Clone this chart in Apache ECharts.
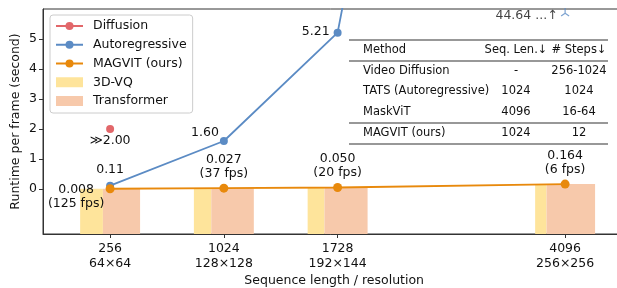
<!DOCTYPE html>
<html><head><meta charset="utf-8">
<script src="https://cdn.jsdelivr.net/npm/echarts@6/dist/echarts.min.js"></script>
<style>html,body{margin:0;padding:0;background:#fff}#c{width:617px;height:288px}</style>
</head><body><div id="c"></div>
<script>
// ---- data ----
const seqLens = ['256', '1024', '1728', '4096'];
const resolutions = ['64×64', '128×128', '192×144', '256×256'];
const xSlots = [1, 2, 3, 5];              // ordinal slot of each sequence length (gap before 4096)
const diffusionRuntime = [2.00];          // shown at first slot, "≫2.00"
const autoregressiveRuntime = [0.11, 1.60, 5.21, 44.64];
const magvitRuntime = [0.008, 0.027, 0.050, 0.164];
const magvitFps = [125, 37, 20, 6];
const vqShare = [0.38, 0.29, 0.28, 0.19]; // share of MAGVIT runtime spent in 3D-VQ
const yTicks = [0, 1, 2, 3, 4, 5];
const tableHeader = ['Method', 'Seq. Len.↓', '# Steps↓'];
const tableMethods = ['Video Diffusion', 'TATS (Autoregressive)', 'MaskViT', 'MAGVIT (ours)'];
const tableSeqLen = ['-', '1024', '4096', '1024'];
const tableSteps = ['256-1024', '1024', '16-64', '12'];

// ---- style ----
const FONT = 'DejaVu Sans';
const TXT = '#111';
const C_DIFF = '#e2676a', C_AR = '#5b8bc4', C_MAG = '#e8890c', C_VQ = '#fee49b', C_TR = '#f7c9ab';
const Y_MIN = -1.5, Y_MAX = 6;
const X_MIN = 0.41, X_MAX = 5.53;
const PX_PER_SLOT = 113.75;
const BAR_W = 0.527; // in slot units

const chart = echarts.init(document.getElementById('c'), null, {renderer: 'canvas'});

function barRender(part) {
  return function (params, api) {
    const x = api.value(0), y = api.value(1), share = api.value(2);
    const top = api.coord([x, y]);
    const bot = api.coord([x, Y_MIN]);
    const w = api.size([BAR_W, 0])[0];
    const left = top[0] - w / 2;
    const split = left + w * share;
    const x0 = part === 0 ? left : split;
    const x1 = part === 0 ? split : left + w;
    return {
      type: 'rect',
      shape: {x: x0, y: top[1], width: x1 - x0, height: bot[1] - top[1]},
      style: {fill: part === 0 ? C_VQ : C_TR}
    };
  };
}
const barData = xSlots.map((x, i) => [x, magvitRuntime[i], vqShare[i]]);

const arLabelCfg = [
  {show: true, position: 'top', distance: 5},
  {show: true, position: 'left', distance: 1, offset: [0, -8]},
  {show: true, position: 'left', distance: 4, offset: [0, -1]},
  {show: false}
];

// table graphic
const tX0 = 349, tX1 = 608, colM = 363, colS = 516, colT = 579;
const rowY = [71, 91, 112, 133];
const g = [];
const tStyle = (align) => ({fontFamily: FONT, fontSize: 11.5, fill: TXT, align: align, verticalAlign: 'middle'});
g.push({type: 'text', x: colM, y: 50, style: Object.assign({text: tableHeader[0]}, tStyle('left'))});
g.push({type: 'text', x: colS, y: 50, style: Object.assign({text: tableHeader[1]}, tStyle('center'))});
g.push({type: 'text', x: colT, y: 50, style: Object.assign({text: tableHeader[2]}, tStyle('center'))});
tableMethods.forEach((m, i) => {
  g.push({type: 'text', x: colM, y: rowY[i], style: Object.assign({text: m}, tStyle('left'))});
  g.push({type: 'text', x: colS, y: rowY[i], style: Object.assign({text: tableSeqLen[i]}, tStyle('center'))});
  g.push({type: 'text', x: colT, y: rowY[i], style: Object.assign({text: tableSteps[i]}, tStyle('center'))});
});
[40, 61, 123, 144].forEach(y => g.push({type: 'line', shape: {x1: tX0, y1: y, x2: tX1, y2: y}, style: {stroke: '#333', lineWidth: 1.2}}));

const option = {
  animation: false,
  textStyle: {fontFamily: FONT},
  grid: {left: 43, top: 9, width: (X_MAX - X_MIN) * PX_PER_SLOT, height: 225, show: true, borderColor: '#333', borderWidth: 1,
    containLabel: false, outerBoundsMode: 'none'},
  legend: {
    orient: 'vertical', left: 50, top: 15,
    data: [
      {name: 'Diffusion'}, {name: 'Autoregressive'}, {name: 'MAGVIT (ours)'},
      {name: '3D-VQ', icon: 'rect'}, {name: 'Transformer', icon: 'rect'}
    ],
    itemWidth: 27, itemHeight: 10, itemGap: 4.75,
    padding: [4, 6, 5, 5],
    borderColor: '#ccc', borderWidth: 1, borderRadius: 3,
    backgroundColor: 'rgba(255,255,255,0.85)',
    textStyle: {fontFamily: FONT, fontSize: 12.5, color: TXT, lineHeight: 14, padding: [0, 0, 0, 5]}
  },
  xAxis: {
    type: 'value', min: X_MIN, max: X_MAX,
    axisLine: {show: true, onZero: false, lineStyle: {color: '#333'}},
    axisTick: {show: true, customValues: xSlots, length: 4, lineStyle: {color: '#333'}},
    axisLabel: {
      customValues: xSlots, margin: 7, fontFamily: FONT, fontSize: 12.5, color: TXT, lineHeight: 15,
      formatter: v => { const i = xSlots.indexOf(v); return i < 0 ? '' : seqLens[i] + '\n' + resolutions[i]; }
    },
    splitLine: {show: false},
    name: 'Sequence length / resolution', nameLocation: 'middle', nameGap: 40, nameMoveOverlap: false,
    nameTextStyle: {fontFamily: FONT, fontSize: 12.5, color: TXT}
  },
  yAxis: {
    type: 'value', min: Y_MIN, max: Y_MAX,
    axisLine: {show: true, lineStyle: {color: '#333'}},
    axisTick: {show: true, customValues: yTicks, length: 4, lineStyle: {color: '#333'}},
    axisLabel: {customValues: yTicks, margin: 6, fontFamily: FONT, fontSize: 12.5, color: TXT},
    splitLine: {show: false},
    name: 'Runtime per frame (second)', nameLocation: 'middle', nameGap: 21, nameMoveOverlap: false,
    nameTextStyle: {fontFamily: FONT, fontSize: 12.5, color: TXT}
  },
  series: [
    {name: '3D-VQ', type: 'custom', renderItem: barRender(0), data: barData, clip: true, z: 1, itemStyle: {color: C_VQ}},
    {name: 'Transformer', type: 'custom', renderItem: barRender(1), data: barData, clip: true, z: 1, itemStyle: {color: C_TR}},
    {
      name: 'Diffusion', type: 'line', z: 3, symbol: 'circle', symbolSize: 8,
      itemStyle: {color: C_DIFF}, lineStyle: {color: C_DIFF, width: 1.8},
      data: diffusionRuntime.map((v, i) => [xSlots[i], v]),
      label: {show: true, position: 'bottom', distance: 1, fontFamily: FONT, fontSize: 12.5, color: TXT,
        formatter: p => '≫' + diffusionRuntime[p.dataIndex].toFixed(2)}
    },
    {
      name: 'Autoregressive', type: 'line', z: 3, symbol: 'circle', symbolSize: 8, clip: true,
      itemStyle: {color: C_AR}, lineStyle: {color: C_AR, width: 1.8},
      data: xSlots.map((x, i) => ({value: [x, autoregressiveRuntime[i]], label: arLabelCfg[i]})),
      label: {fontFamily: FONT, fontSize: 12.5, color: TXT,
        formatter: p => autoregressiveRuntime[p.dataIndex].toFixed(2)}
    },
    {
      name: 'arOffscale', type: 'scatter', z: 3,
      symbol: 'path://M0,0 L0,-10 M0,0 L8.66,5 M0,0 L-8.66,5', symbolSize: 8,
      itemStyle: {color: 'none', borderColor: C_AR, borderWidth: 1.2},
      data: [[xSlots[3], Y_MAX - 0.1]],
      label: {show: true, position: 'left', distance: 1, offset: [0, 4], fontFamily: FONT, fontSize: 12.5, color: TXT,
        formatter: () => autoregressiveRuntime[3].toFixed(2) + ' ...↑'}
    },
    {
      name: 'MAGVIT (ours)', type: 'line', z: 4, symbol: 'circle', symbolSize: 9,
      itemStyle: {color: C_MAG}, lineStyle: {color: C_MAG, width: 1.8},
      data: xSlots.map((x, i) => ({
        value: [x, magvitRuntime[i]],
        label: i === 0 ? {position: 'inside', offset: [-34, 8]} : {position: 'top', distance: 3}
      })),
      label: {show: true, fontFamily: FONT, fontSize: 12.5, lineHeight: 14, color: TXT, align: 'center',
        formatter: p => magvitRuntime[p.dataIndex].toFixed(3) + '\n(' + magvitFps[p.dataIndex] + ' fps)'}
    }
  ],
  graphic: g
};
chart.setOption(option);
</script>
</body></html>
